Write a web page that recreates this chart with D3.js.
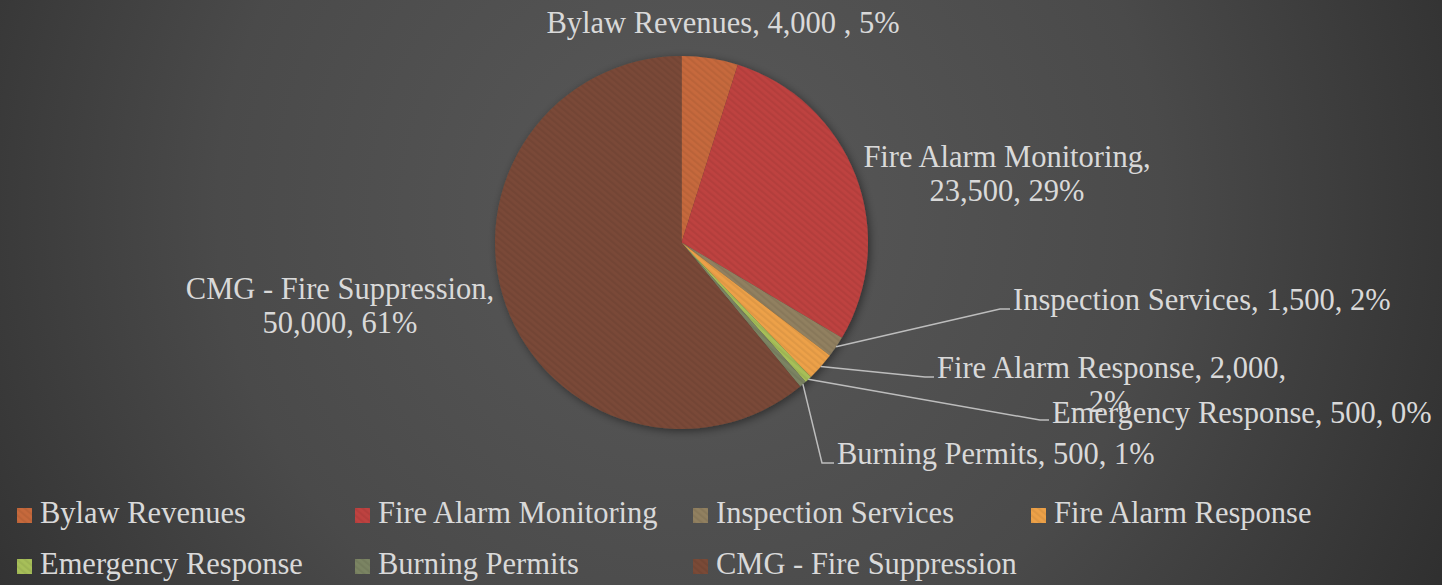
<!DOCTYPE html>
<html>
<head>
<meta charset="utf-8">
<script src="https://cdn.jsdelivr.net/npm/d3@7"></script>
<style>
	html, body { margin: 0; padding: 0; background: #3a3a3a; overflow: hidden; }
	text { font-family: "Liberation Serif", "Times New Roman", serif; fill: #d9d9d9; }
</style>
</head>
<body>
<div id="chart"></div>
<script>
//---------------- data ----------------------
var categories = ["Bylaw Revenues", "Fire Alarm Monitoring", "Inspection Services",
	"Fire Alarm Response", "Emergency Response", "Burning Permits", "CMG - Fire Suppression"];
var amounts = [4000, 23500, 1500, 2000, 500, 500, 50000];
var valueLabels = ["4,000 ", "23,500", "1,500", "2,000", "500", "500", "50,000"];
var percentLabels = ["5%", "29%", "2%", "2%", "0%", "1%", "61%"];

var colors = ["#c6693c", "#be4240", "#918060", "#eda148", "#a7bf59", "#7b8463", "#7a4a37"];

//---------------- layout ----------------------
var w = 1442;
var h = 585;
var cx = 681.5;
var cy = 242.5;
var radius = 186.5;
var fontSize = 30.5;
var lineHeight = 34;

// label placement: text lines, anchor, and leader elbow (null = no leader)
var labelLayout = [
	{ x: 723, y: 33, anchor: "middle", lines: 1, elbow: null },
	{ x: 1007, y: 167, anchor: "middle", lines: 2, elbow: null },
	{ x: 1013, y: 310, anchor: "start", lines: 1, elbow: [1000, 309] },
	{ x: 937, y: 378, anchor: "start", lines: 2, elbow: [925, 377], dx2: 172 },
	{ x: 1052, y: 423, anchor: "start", lines: 1, elbow: [1040, 420] },
	{ x: 837, y: 464, anchor: "start", lines: 1, elbow: [822, 463] },
	{ x: 340, y: 299, anchor: "middle", lines: 2, elbow: null }
];

var svg = d3.select("#chart").append("svg")
	.attr("width", w)
	.attr("height", h);

var defs = svg.append("defs");

// background gradient
var bg = defs.append("radialGradient")
	.attr("id", "bg")
	.attr("gradientUnits", "userSpaceOnUse")
	.attr("cx", 690).attr("cy", 210).attr("r", 860);
bg.append("stop").attr("offset", 0).attr("stop-color", "#595959");
bg.append("stop").attr("offset", 0.55).attr("stop-color", "#4a4a4a");
bg.append("stop").attr("offset", 1).attr("stop-color", "#2e2e2e");

// diagonal texture on the slices
var stripes = defs.append("pattern")
	.attr("id", "stripes")
	.attr("patternUnits", "userSpaceOnUse")
	.attr("width", 5).attr("height", 5)
	.attr("patternTransform", "rotate(-50)");
stripes.append("rect")
	.attr("width", 2.2).attr("height", 5)
	.attr("fill", "#000").attr("opacity", 0.06);

var shadow = defs.append("filter")
	.attr("id", "shadow")
	.attr("x", "-20%").attr("y", "-20%")
	.attr("width", "140%").attr("height", "140%");
shadow.append("feDropShadow")
	.attr("dx", 2).attr("dy", 2)
	.attr("stdDeviation", 4)
	.attr("flood-color", "#000")
	.attr("flood-opacity", 0.45);

svg.append("rect")
	.attr("width", w).attr("height", h)
	.attr("fill", "url(#bg)");

//---------------- pie ----------------------
var pie = d3.pie().sort(null).value(function(d) { return d; });
var arcs = pie(amounts);

var arc = d3.arc().innerRadius(0).outerRadius(radius);
var edgeArc = d3.arc().innerRadius(radius).outerRadius(radius);

var pieGrp = svg.append("g")
	.attr("transform", "translate(" + cx + "," + cy + ")");

var slices = pieGrp.append("g").attr("filter", "url(#shadow)");
slices.selectAll("path")
	.data(arcs)
	.enter()
	.append("path")
	.attr("d", arc)
	.attr("fill", function(d, i) { return colors[i]; });

pieGrp.append("g").selectAll("path")
	.data(arcs)
	.enter()
	.append("path")
	.attr("d", arc)
	.attr("fill", "url(#stripes)");

//---------------- leader lines ----------------------
var leaders = svg.append("g");
arcs.forEach(function(d, i) {
	var lay = labelLayout[i];
	if (!lay.elbow) return;
	var p = edgeArc.centroid(d);
	var pts = [[cx + p[0], cy + p[1]], lay.elbow, [lay.x - 3, lay.elbow[1]]];
	leaders.append("path")
		.attr("d", d3.line()(pts))
		.attr("fill", "none")
		.attr("stroke", "#bdbdbd")
		.attr("stroke-width", 1.5);
});

//---------------- data labels ----------------------
var labels = svg.append("g").style("font-size", fontSize + "px");
categories.forEach(function(name, i) {
	var lay = labelLayout[i];
	var t = labels.append("text")
		.attr("text-anchor", lay.anchor);
	if (lay.lines === 1) {
		t.attr("x", lay.x).attr("y", lay.y)
			.text(name + ", " + valueLabels[i] + ", " + percentLabels[i]);
	} else if (lay.dx2) {
		t.attr("x", lay.x).attr("y", lay.y)
			.text(name + ", " + valueLabels[i] + ",");
		labels.append("text")
			.attr("text-anchor", "middle")
			.attr("x", lay.x + lay.dx2)
			.attr("y", lay.y + lineHeight)
			.text(percentLabels[i]);
	} else {
		t.append("tspan").attr("x", lay.x).attr("y", lay.y)
			.text(name + ",");
		t.append("tspan").attr("x", lay.x).attr("y", lay.y + lineHeight)
			.text(valueLabels[i] + ", " + percentLabels[i]);
	}
});

//---------------- legend ----------------------
var legendCols = 4;
var legendX = d3.scaleLinear().domain([0, 1]).range([17, 355]);
var legendY = d3.scaleLinear().domain([0, 1]).range([523, 574]);
var swatch = 15;

var legend = svg.append("g").style("font-size", fontSize + "px");
var items = legend.selectAll("g")
	.data(categories)
	.enter()
	.append("g")
	.attr("transform", function(d, i) {
		return "translate(" + legendX(i % legendCols) + "," + legendY(Math.floor(i / legendCols)) + ")";
	});

items.append("rect")
	.attr("x", 0).attr("y", -swatch)
	.attr("width", swatch).attr("height", swatch)
	.attr("fill", function(d, i) { return colors[i]; });
items.append("rect")
	.attr("x", 0).attr("y", -swatch)
	.attr("width", swatch).attr("height", swatch)
	.attr("fill", "url(#stripes)");
items.append("text")
	.attr("x", 23)
	.attr("y", 0)
	.text(function(d) { return d; });
</script>
</body>
</html>
